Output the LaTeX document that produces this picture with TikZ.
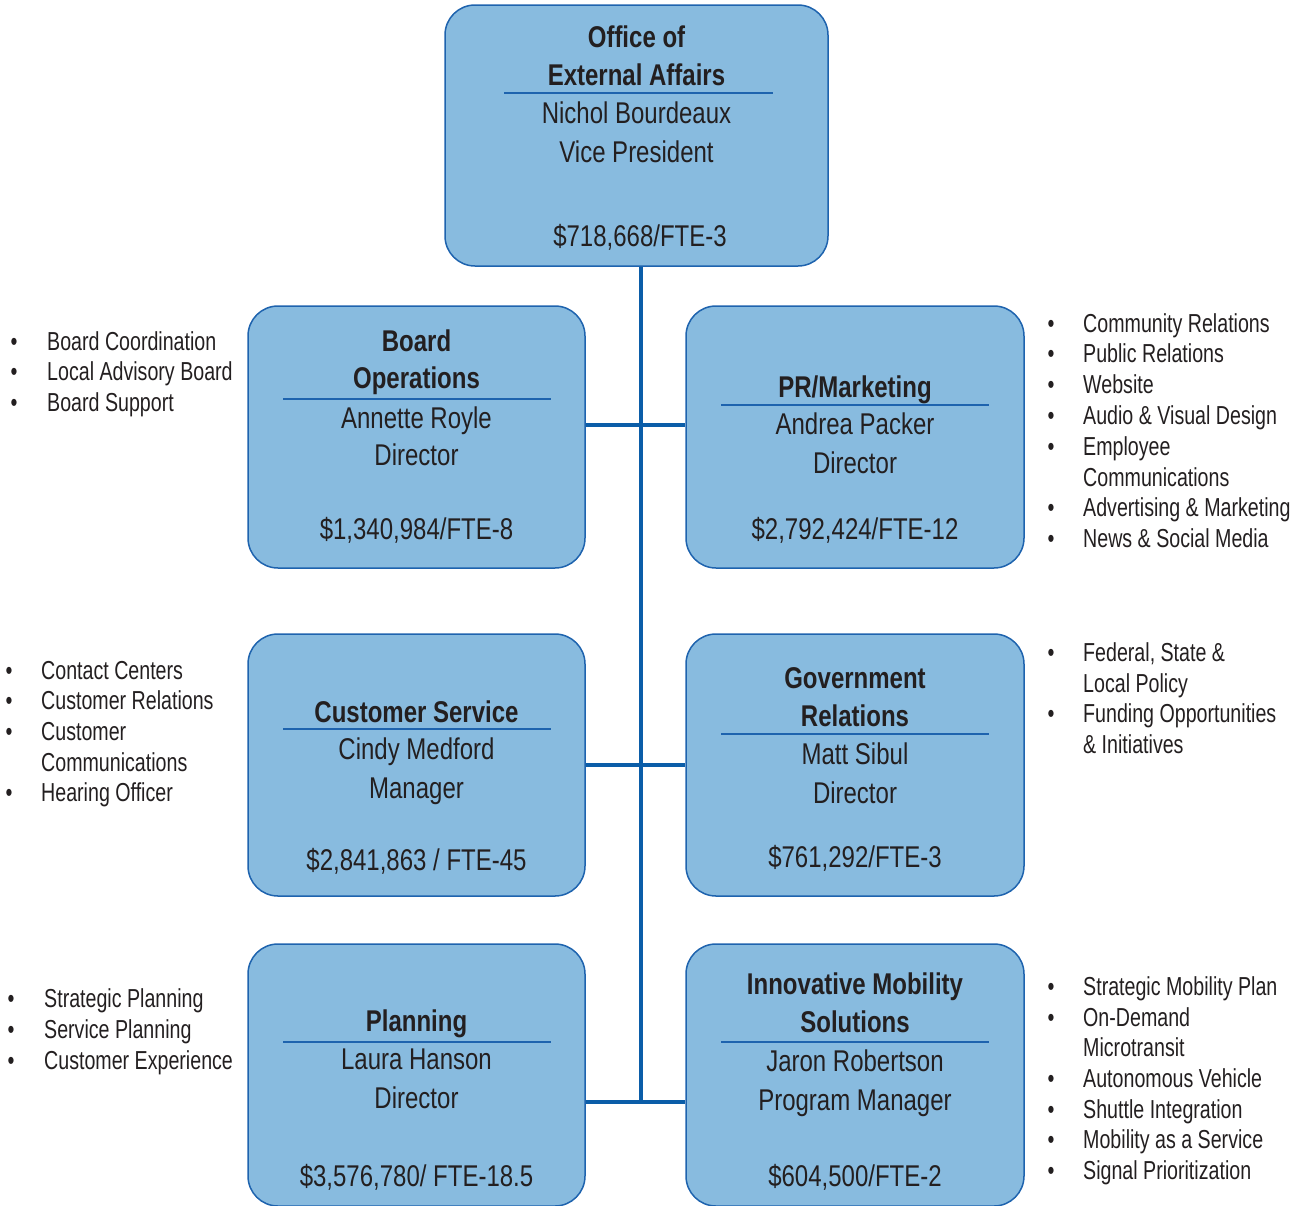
\documentclass[tikz,border=0pt]{standalone}
\usepackage{fontspec}
\setmainfont{Liberation Sans}[FakeStretch=0.8]
\newfontfamily\bulfont{Liberation Sans}[FakeStretch=0.755]
\definecolor{boxfill}{HTML}{88BBDF}
\definecolor{boxline}{HTML}{1E63AE}
\definecolor{connblue}{HTML}{0B5DA8}
\definecolor{ink}{HTML}{231F20}
\begin{document}
\begin{tikzpicture}[x=1pt,y=-1pt,
  box/.style={draw=boxline, line width=1.5pt, fill=boxfill, rounded corners=30pt, minimum width=337, minimum height=262, inner sep=0},
  bt/.style={anchor=base, font=\fontsize{30}{36}\selectfont, text=ink, inner sep=0},
  btb/.style={bt, font=\fontsize{30}{36}\selectfont\bfseries},
  bl/.style={anchor=base west, font=\bulfont\fontsize{26}{30}\selectfont, text=ink, inner sep=0},
  bul/.style={anchor=base, font=\bulfont\fontsize{26}{30}\selectfont, text=ink, inner sep=0},
  sep/.style={draw=boxline, line width=1.2pt},
  conn/.style={draw=connblue, line width=4pt}]
\useasboundingbox (0,0) rectangle (1312,1205);

% boxes
\node[box, minimum width=383, minimum height=261] (top) at (636.5,135.5) {};
\node[box] (bo) at (416.5,437) {};
\node[box, minimum width=338] (pr) at (855,437) {};
\node[box] (cs) at (416.5,765) {};
\node[box, minimum width=338] (gr) at (855,765) {};
\node[box] (pl) at (416.5,1075) {};
\node[box, minimum width=338] (im) at (855,1075) {};

% connectors
\coordinate (j1) at (641,425);
\coordinate (j2) at (641,765);
\coordinate (j3) at (641,1102);
\draw[conn] (top.south -| j3) -- (j3);
\draw[conn] (bo.east |- j1) -- (pr.west |- j1);
\draw[conn] (cs.east |- j2) -- (gr.west |- j2);
\draw[conn] (pl.east |- j3) -- (im.west |- j3);

% top box
\node[btb] (t1) at (636.5,47) {Office of};
\node[btb] (t2) at (636.5,85) {External Affairs};
\draw[sep] (504,93) -- (773,93);
\node[bt] (t3) at (636.5,123) {Nichol Bourdeaux};
\node[bt] (t4) at (636.5,162) {Vice President};
\node[bt] (t5) at (640,246) {\$718,668/FTE-3};

% board operations
\node[btb] (b1) at (416.5,351) {Board};
\node[btb] (b2) at (416.5,388) {Operations};
\draw[sep] (283,399) -- (551,399);
\node[bt] (b3) at (416.5,428) {Annette Royle};
\node[bt] (b4) at (416.5,465) {Director};
\node[bt] (b5) at (416.5,539) {\$1,340,984/FTE-8};

% PR/Marketing
\node[btb] (p1) at (855,397) {PR/Marketing};
\draw[sep] (721,405) -- (989,405);
\node[bt] (p2) at (855,434) {Andrea Packer};
\node[bt] (p3) at (855,473) {Director};
\node[bt] (p4) at (855,539) {\$2,792,424/FTE-12};

% Customer Service
\node[btb] (c1) at (416.5,722) {Customer Service};
\draw[sep] (283,729) -- (551,729);
\node[bt] (c2) at (416.5,759) {Cindy Medford};
\node[bt] (c3) at (416.5,798) {Manager};
\node[bt] (c4) at (416.5,870) {\$2,841,863 / FTE-45};

% Government Relations
\node[btb] (g1) at (855,688) {Government};
\node[btb] (g2) at (855,726) {Relations};
\draw[sep] (721,734) -- (989,734);
\node[bt] (g3) at (855,764) {Matt Sibul};
\node[bt] (g4) at (855,803) {Director};
\node[bt] (g5) at (855,867) {\$761,292/FTE-3};

% Planning
\node[btb] (l1) at (416.5,1031) {Planning};
\draw[sep] (283,1042) -- (551,1042);
\node[bt] (l2) at (416.5,1069) {Laura Hanson};
\node[bt] (l3) at (416.5,1108) {Director};
\node[bt] (l4) at (416.5,1186) {\$3,576,780/ FTE-18.5};

% Innovative Mobility Solutions
\node[btb] (m1) at (855,994) {Innovative Mobility};
\node[btb] (m2) at (855,1032) {Solutions};
\draw[sep] (721,1042) -- (989,1042);
\node[bt] (m3) at (855,1071) {Jaron Robertson};
\node[bt] (m4) at (855,1110) {Program Manager};
\node[bt] (m5) at (855,1186) {\$604,500/FTE-2};

% bullet lists
\foreach \yy/\t/\b [count=\i] in {350/Board Coordination/1, 380/Local Advisory Board/1, 411/Board Support/1}{
  \node[bl] (la-\i) at (47,\yy) {\t};
  \ifnum\b=1 \node[bul] (lab-\i) at (14,\yy) {•};\fi
}
\foreach \yy/\t/\b [count=\i] in {332/Community Relations/1, 362/Public Relations/1, 393/Website/1, 424/Audio \& Visual Design/1, 455/Employee/1, 486/Communications/0, 516/Advertising \& Marketing/1, 547/News \& Social Media/1}{
  \node[bl] (ra-\i) at (1083,\yy) {\t};
  \ifnum\b=1 \node[bul] (rab-\i) at (1051,\yy) {•};\fi
}
\foreach \yy/\t/\b [count=\i] in {679/Contact Centers/1, 709/Customer Relations/1, 740/Customer/1, 771/Communications/0, 801/Hearing Officer/1}{
  \node[bl] (lb-\i) at (41,\yy) {\t};
  \ifnum\b=1 \node[bul] (lbb-\i) at (9,\yy) {•};\fi
}
\foreach \yy/\t/\b [count=\i] in {661/{Federal, State \&}/1, 692/Local Policy/0, 722/Funding Opportunities/1, 753/\& Initiatives/0}{
  \node[bl] (rb-\i) at (1083,\yy) {\t};
  \ifnum\b=1 \node[bul] (rbb-\i) at (1051,\yy) {•};\fi
}
\foreach \yy/\t/\b [count=\i] in {1007/Strategic Planning/1, 1038/Service Planning/1, 1069/Customer Experience/1}{
  \node[bl] (lc-\i) at (44,\yy) {\t};
  \ifnum\b=1 \node[bul] (lcb-\i) at (11,\yy) {•};\fi
}
\foreach \yy/\t/\b [count=\i] in {995/Strategic Mobility Plan/1, 1026/On-Demand/1, 1056/Microtransit/0, 1087/Autonomous Vehicle/1, 1118/Shuttle Integration/1, 1148/Mobility as a Service/1, 1179/Signal Prioritization/1}{
  \node[bl] (rc-\i) at (1083,\yy) {\t};
  \ifnum\b=1 \node[bul] (rcb-\i) at (1051,\yy) {•};\fi
}
\end{tikzpicture}
\end{document}
